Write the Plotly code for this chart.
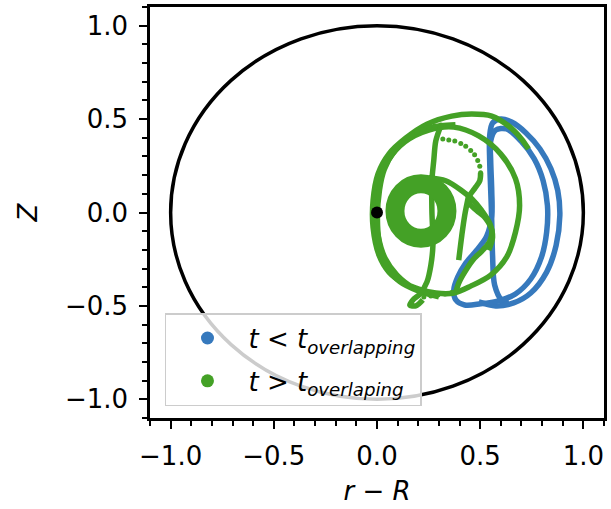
import plotly.graph_objects as go

# ---- trajectory samples (r - R, Z) ----
# early phase, t < t_overlapping: two nested D-shaped orbits
blue_outer_r = [0.493, 0.575, 0.662, 0.745, 0.822, 0.868, 0.886, 0.876, 0.843, 0.790, 0.722,
                0.652, 0.599, 0.560, 0.546, 0.546, 0.551, 0.556, 0.560, 0.570, 0.604, 0.638]
blue_outer_z = [-0.479, -0.500, -0.484, -0.431, -0.319, -0.176, -0.016, 0.117, 0.234, 0.340, 0.426,
                0.484, 0.500, 0.479, 0.410, 0.277, 0.117, -0.043, -0.229, -0.388, -0.468, -0.479]

blue_inner_r = [0.551, 0.575, 0.628, 0.697, 0.762, 0.805, 0.826, 0.822, 0.797, 0.745, 0.671, 0.589,
                0.502, 0.425, 0.382, 0.372, 0.391, 0.430, 0.483, 0.531, 0.556, 0.556, 0.551, 0.551]
blue_inner_z = [0.383, 0.441, 0.447, 0.383, 0.287, 0.170, 0.037, -0.106, -0.239, -0.356, -0.436, -0.473,
                -0.489, -0.495, -0.468, -0.415, -0.346, -0.271, -0.202, -0.128, -0.016, 0.117, 0.277, 0.383]

# late phase, t > t_overlapping: large loops
green_loop_r = [0.734, 0.700, 0.638, 0.556, 0.459, 0.362, 0.242, 0.140, 0.058, 0.005, -0.019, -0.019,
                0.010, 0.058, 0.121, 0.203, 0.285, 0.372, 0.454, 0.551, 0.628, 0.671, 0.691, 0.671,
                0.599, 0.493, 0.372, 0.251, 0.135, 0.053, 0.005, -0.005, 0.005, 0.039, 0.097, 0.179, 0.275]
green_loop_z = [0.340, 0.394, 0.463, 0.516, 0.527, 0.516, 0.473, 0.399, 0.314, 0.207, 0.064, -0.080,
                -0.229, -0.319, -0.372, -0.410, -0.431, -0.431, -0.394, -0.335, -0.239, -0.106, 0.037, 0.181,
                0.314, 0.410, 0.457, 0.441, 0.378, 0.277, 0.144, 0.011, -0.122, -0.245, -0.335, -0.404, -0.436]

# an extra lap hugging the left side
green_lap_r = [0.300, 0.200, 0.110, 0.045, 0.012, 0.002, 0.012, 0.035, 0.085, 0.150, 0.230, 0.310, 0.380]
green_lap_z = [-0.452, -0.420, -0.370, -0.290, -0.170, -0.030, 0.120, 0.230, 0.330, 0.400, 0.445, 0.465, 0.470]

# near-vertical pass through the core, ending in a small hook
green_vert_r = [0.309, 0.285, 0.275, 0.266, 0.266, 0.271, 0.261, 0.242, 0.208, 0.174, 0.159, 0.188, 0.222]
green_vert_z = [0.463, 0.383, 0.277, 0.170, 0.011, -0.176, -0.282, -0.372, -0.436, -0.468, -0.495, -0.500, -0.468]

# wiggly path right of the core
green_wig_r = [0.502, 0.498, 0.473, 0.449, 0.449, 0.483, 0.527, 0.556, 0.546, 0.512, 0.464, 0.425, 0.396, 0.382]
green_wig_z = [0.213, 0.170, 0.128, 0.090, 0.048, 0.011, -0.032, -0.096, -0.154, -0.202, -0.255, -0.319, -0.378, -0.426]

green_cross_r = [0.251, 0.333, 0.411, 0.459, 0.507, 0.546, 0.560, 0.541]
green_cross_z = [0.186, 0.170, 0.117, 0.074, 0.011, -0.058, -0.133, -0.202]

green_down_r = [0.444, 0.425, 0.411, 0.396]
green_down_z = [0.090, -0.016, -0.122, -0.255]

# fast (sparsely sampled) stretches
green_dots_r = [0.193, 0.222, 0.251, 0.280, 0.309,
                0.319, 0.348, 0.377, 0.406, 0.430, 0.454, 0.473, 0.488, 0.498, 0.502,
                0.227, 0.261, 0.295, 0.329, 0.362]
green_dots_z = [0.431, 0.444, 0.455, 0.463, 0.468,
                0.394, 0.388, 0.383, 0.370, 0.354, 0.332, 0.309, 0.279, 0.247, 0.213,
                -0.452, -0.447, -0.441, -0.436, -0.428]

# tightly wound core orbit: centre and semi-axes
core_center = (0.213, 0.008)
core_radius = (0.126, 0.146)

# plasma boundary (unit circle) and the magnetic axis
boundary_radius = 1.0
axis_point = ([0.0], [0.0])

BLUE = "#3679bd"
GREEN = "#44a126"
LW = 5.5

fig = go.Figure()

for xs, ys in [(blue_outer_r, blue_outer_z), (blue_inner_r, blue_inner_z)]:
    fig.add_trace(go.Scatter(x=xs, y=ys, mode="lines",
                             line=dict(color=BLUE, width=LW, shape="spline", smoothing=0.9),
                             showlegend=False, hoverinfo="skip"))

for xs, ys in [(green_loop_r, green_loop_z), (green_lap_r, green_lap_z), (green_vert_r, green_vert_z),
               (green_wig_r, green_wig_z), (green_cross_r, green_cross_z), (green_down_r, green_down_z)]:
    fig.add_trace(go.Scatter(x=xs, y=ys, mode="lines",
                             line=dict(color=GREEN, width=LW, shape="spline", smoothing=0.9),
                             showlegend=False, hoverinfo="skip"))

fig.add_trace(go.Scatter(x=green_dots_r, y=green_dots_z, mode="markers",
                         marker=dict(color=GREEN, size=5), showlegend=False, hoverinfo="skip"))

# core ring
cx, cz = core_center
rx, rz = core_radius
fig.add_shape(type="circle", xref="x", yref="y", x0=cx - rx, x1=cx + rx, y0=cz - rz, y1=cz + rz,
              line=dict(color=GREEN, width=19))

# boundary
fig.add_shape(type="circle", xref="x", yref="y", x0=-boundary_radius, x1=boundary_radius,
              y0=-boundary_radius, y1=boundary_radius, line=dict(color="black", width=3.5))

fig.add_trace(go.Scatter(x=axis_point[0], y=axis_point[1], mode="markers",
                         marker=dict(color="black", size=12), showlegend=False, hoverinfo="skip"))

# legend entries
fig.add_trace(go.Scatter(x=[None], y=[None], mode="markers", marker=dict(color=BLUE, size=13),
                         legendgroup="early",
                         name="<i>t</i> < <i>t</i><sub><i>overlapping</i></sub>"))
fig.add_trace(go.Scatter(x=[None], y=[None], mode="markers", marker=dict(color=GREEN, size=13),
                         legendgroup="late",
                         name="<i>t</i> > <i>t</i><sub><i>overlaping</i></sub>"))

axis_common = dict(
    range=[-1.1, 1.1], tick0=0, dtick=0.5, tickformat=".1f",
    ticks="outside", ticklen=8, tickwidth=2, tickcolor="black",
    minor=dict(ticks="outside", ticklen=5, tickwidth=1.5, dtick=0.1, tickcolor="black"),
    showline=True, linewidth=2.5, linecolor="black", mirror=True,
    showgrid=False, zeroline=False,
    tickfont=dict(size=26, color="black"),
)

fig.update_layout(
    width=611, height=509,
    margin=dict(l=150, r=6, t=4, b=91),
    paper_bgcolor="white", plot_bgcolor="white",
    font=dict(family="DejaVu Sans", color="black"),
    xaxis=dict(**axis_common, ticklabelstandoff=5,
               title=dict(text="<i>r</i> − <i>R</i>", font=dict(size=26), standoff=12)),
    yaxis=dict(**axis_common, ticklabelstandoff=6,
               title=dict(text="<i>Z</i>", font=dict(size=26), standoff=20)),
    legend=dict(x=0.033, y=0.029, xanchor="left", yanchor="bottom",
                bgcolor="rgba(255,255,255,0.8)", bordercolor="#cccccc", borderwidth=1.5,
                font=dict(size=26), itemwidth=72, tracegroupgap=6),
    showlegend=True,
)

fig.write_html("out.html")
